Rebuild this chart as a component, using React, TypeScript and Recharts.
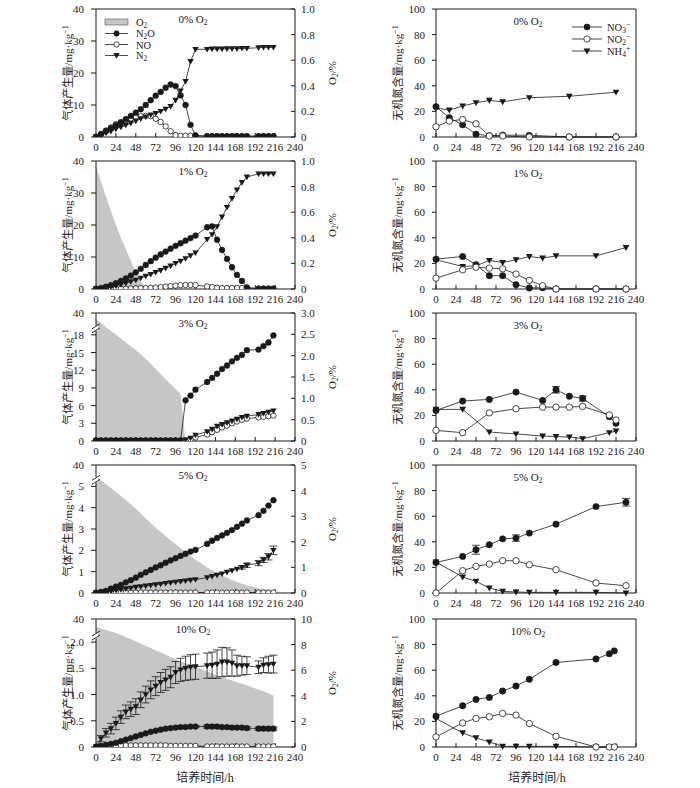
import { ComposedChart, Line, Area, XAxis, YAxis, ReferenceLine, ErrorBar } from 'recharts';

const FONT = "'Liberation Serif', 'Times New Roman', 'Noto Sans CJK SC', serif";
const INK = '#1a1a1a';
const GREY = '#c6c6c6';

// incubation time (h) for the gas panels
const hours = [
  0, 6, 12, 18, 24, 30, 36, 42, 48, 54, 60, 66, 72, 78, 84, 90, 96, 102, 108, 114, 120,
  134, 140, 146, 152, 158, 164, 170, 176, 182, 196, 202, 208, 214,
];
const xTicks = [0, 24, 48, 72, 96, 120, 144, 168, 192, 216, 240];

// 0% O2
const n2o0 = [0, 0.9, 1.9, 2.8, 3.7, 4.6, 5.6, 6.6, 7.6, 8.7, 10.0, 11.5, 12.9, 14.1, 15.4, 16.4, 15.9, 13.0, 10.0, 3.8, 0.5,
  0.2, 0.2, 0.2, 0.2, 0.2, 0.2, 0.2, 0.2, 0.2, 0.2, 0.2, 0.2, 0.2];
const no0 = [0, 0.9, 2.0, 3.0, 4.0, 4.6, 5.2, 5.8, 6.2, 6.5, 6.6, 6.5, 5.7, 4.7, 3.3, 1.8, 0.6, 0.4, 0.4, 0.4, 0.4,
  0.3, 0.3, 0.3, 0.3, 0.3, 0.3, 0.3, 0.3, 0.3, 0.3, 0.3, 0.3, 0.3];
const n20 = [0, 0.6, 1.2, 1.8, 2.5, 3.1, 3.7, 4.3, 5.0, 5.7, 6.3, 6.9, 7.4, 8.0, 8.7, 9.6, 11.5, 14.4, 17.4, 23.6, 27.4,
  27.4, 27.5, 27.5, 27.5, 27.6, 27.6, 27.6, 27.7, 27.7, 27.9, 28.0, 28.0, 28.0];

// 1% O2
const o21 = [0.96, 0.84, 0.72, 0.61, 0.50, 0.40, 0.31, 0.22, 0.13, 0.06, 0.01];
const n2o1 = [0, 0.3, 0.7, 1.2, 1.8, 2.5, 3.3, 4.2, 5.2, 6.3, 7.5, 8.7, 9.8, 10.8, 11.7, 12.6, 13.5, 14.3, 15.1, 15.9, 16.7,
  19.3, 19.6, 15.4, 12.2, 9.4, 6.8, 4.4, 2.5, 0.5, 0, 0, 0, 0];
const no1 = [0, 0, 0, 0, 0.05, 0.1, 0.1, 0.15, 0.2, 0.25, 0.3, 0.35, 0.45, 0.6, 0.75, 0.9, 1.05, 1.2, 1.25, 1.25, 1.2,
  0.8, 0.6, 0.4, 0.3, 0.3, 0.3, 0.3, 0.3, 0.3, 0.2, 0.2, 0.2, 0.2];
const n21 = [0, 0.2, 0.4, 0.7, 1.0, 1.4, 1.8, 2.3, 2.8, 3.4, 4.0, 4.6, 5.2, 5.8, 6.5, 7.2, 8.0, 8.7, 9.5, 10.4, 11.3,
  15.5, 17.0, 19.5, 22.5, 25.5, 28.3, 31.0, 33.3, 35.0, 36.0, 36.0, 36.0, 36.0];

// 3% O2
const o23 = [2.85, 2.76, 2.67, 2.58, 2.49, 2.40, 2.31, 2.22, 2.13, 2.03, 1.93, 1.81, 1.69, 1.57, 1.45, 1.33, 1.22, 1.10, 0];
const n2o3 = [0.1, 0.1, 0.1, 0.1, 0.1, 0.1, 0.1, 0.1, 0.1, 0.1, 0.1, 0.1, 0.1, 0.1, 0.1, 0.1, 0.1, 0.1, 6.9, 7.7, 8.7,
  10.0, 10.7, 11.4, 12.2, 12.8, 13.5, 14.1, 14.6, 15.4, 15.5, 16.1, 16.7, 17.9];
const no3g = [0.05, 0.05, 0.05, 0.05, 0.05, 0.05, 0.05, 0.05, 0.05, 0.05, 0.05, 0.05, 0.05, 0.05, 0.05, 0.05, 0.05, 0.05, 0.1, 0.3, 0.6,
  1.1, 1.5, 1.9, 2.3, 2.6, 3.0, 3.3, 3.6, 3.8, 4.0, 4.1, 4.2, 4.3];
const n23 = [0.05, 0.05, 0.05, 0.05, 0.05, 0.05, 0.05, 0.05, 0.05, 0.05, 0.05, 0.05, 0.05, 0.05, 0.05, 0.05, 0.05, 0.05, 0.2, 0.5, 1.0,
  1.6, 2.0, 2.5, 2.8, 3.1, 3.4, 3.7, 4.0, 4.2, 4.5, 4.7, 4.9, 5.1];

// 5% O2
const o25 = [4.55, 4.40, 4.25, 4.10, 3.95, 3.79, 3.63, 3.47, 3.30, 3.11, 2.92, 2.73, 2.55, 2.38, 2.22, 2.06, 1.90, 1.75, 1.60, 1.45, 1.30,
  1.00, 0.89, 0.79, 0.69, 0.60, 0.51, 0.43, 0.36, 0.30, 0.19, 0.16, 0.14, 0.12];
const n2o5 = [0, 0.05, 0.1, 0.2, 0.3, 0.38, 0.5, 0.6, 0.72, 0.85, 0.97, 1.08, 1.2, 1.3, 1.42, 1.53, 1.63, 1.74, 1.84, 1.94, 2.02,
  2.3, 2.45, 2.58, 2.7, 2.82, 2.95, 3.1, 3.25, 3.4, 3.65, 3.85, 4.1, 4.35];
const no5 = [0.02, 0.02, 0.02, 0.02, 0.02, 0.02, 0.02, 0.02, 0.02, 0.02, 0.02, 0.02, 0.02, 0.02, 0.02, 0.02, 0.02, 0.02, 0.02, 0.02, 0.02,
  0.02, 0.02, 0.02, 0.02, 0.02, 0.02, 0.02, 0.02, 0.02, 0.02, 0.02, 0.02, 0.02];
const n25 = [0, 0.02, 0.05, 0.08, 0.12, 0.16, 0.2, 0.23, 0.27, 0.3, 0.33, 0.36, 0.39, 0.42, 0.45, 0.48, 0.51, 0.54, 0.57, 0.6, 0.63,
  0.72, 0.78, 0.84, 0.9, 0.98, 1.05, 1.12, 1.2, 1.3, 1.4, 1.55, 1.7, 2.0];
const n25Err = [0, 0, 0, 0, 0, 0, 0, 0, 0, 0, 0, 0, 0, 0, 0, 0, 0, 0, 0, 0, 0,
  0, 0, 0, 0, 0, 0, 0, 0.08, 0.1, 0.12, 0.12, 0.15, 0.2];

// 10% O2
const o210 = [9.35, 9.25, 9.14, 9.02, 8.90, 8.75, 8.59, 8.42, 8.25, 8.08, 7.90, 7.73, 7.55, 7.38, 7.20, 7.03, 6.85, 6.70, 6.55, 6.40, 6.25,
  5.90, 5.75, 5.60, 5.46, 5.32, 5.19, 5.06, 4.94, 4.82, 4.48, 4.35, 4.20, 4.02];
const n2o10 = [0, 0.02, 0.04, 0.06, 0.08, 0.11, 0.14, 0.17, 0.2, 0.23, 0.26, 0.29, 0.31, 0.33, 0.35, 0.36, 0.37, 0.38, 0.38, 0.39, 0.39,
  0.39, 0.39, 0.39, 0.38, 0.38, 0.37, 0.37, 0.37, 0.36, 0.35, 0.35, 0.35, 0.35];
const n2o10Err = [0, 0, 0, 0, 0, 0, 0, 0, 0, 0, 0, 0, 0, 0, 0, 0, 0.02, 0.02, 0.02, 0.02, 0.02,
  0.03, 0.03, 0.03, 0.03, 0.03, 0.03, 0.03, 0.03, 0.03, 0.03, 0.03, 0.03, 0.03];
const no10 = [0, 0.01, 0.02, 0.02, 0.02, 0.03, 0.03, 0.03, 0.03, 0.03, 0.03, 0.03, 0.03, 0.03, 0.03, 0.02, 0.02, 0.02, 0.02, 0.02, 0.02,
  0.01, 0.01, 0.01, 0.01, 0.01, 0.01, 0.01, 0.01, 0.01, 0.01, 0.01, 0.01, 0.01];
const n210 = [0, 0.16, 0.27, 0.35, 0.45, 0.57, 0.67, 0.72, 0.77, 0.9, 1.0, 1.09, 1.16, 1.23, 1.28, 1.33, 1.42, 1.47, 1.5, 1.52, 1.53,
  1.55, 1.56, 1.58, 1.62, 1.62, 1.6, 1.55, 1.55, 1.55, 1.52, 1.56, 1.57, 1.58];
const n210Err = [0, 0.06, 0.08, 0.1, 0.12, 0.12, 0.13, 0.14, 0.15, 0.15, 0.16, 0.17, 0.18, 0.19, 0.2, 0.2, 0.21, 0.22, 0.23, 0.24, 0.24,
  0.24, 0.25, 0.27, 0.28, 0.27, 0.25, 0.2, 0.18, 0.17, 0.12, 0.14, 0.16, 0.17];

// inorganic N panels
const t0 = [0, 16, 32, 48, 64, 80, 112, 160, 216];
const nitrate0 = [23.7, 15, 9.5, 2.2, 1.0, 1.5, 1.3, 0, 0];
const nitrite0 = [8.0, 12.4, 13.7, 10.3, 0.8, 0.8, 0, 0, 0];
const ammonium0 = [22.7, 21, 24.2, 26.8, 28.6, 27.5, 30.7, 31.8, 35];

const t1 = [0, 32, 48, 64, 80, 96, 112, 128, 144, 192, 228];
const nitrate1 = [23.3, 25.4, 19, 10.4, 10.4, 3.4, 0.8, 1, 0, 0, 0];
const nitrite1 = [8.5, 15, 17, 16.3, 15.8, 11.7, 6.7, 2.6, 0, 0, 0];
const ammonium1 = [22.8, 17.6, 18.1, 22.3, 20.7, 22.8, 25.4, 24.1, 25.9, 25.9, 32.4];

const t3 = [0, 32, 64, 96, 128, 144, 160, 176, 208, 216];
const nitrate3 = [23.9, 31.2, 32.5, 38.2, 31.7, 40, 35, 33.2, 19, 13.8];
const nitrate3Err = [0, 0, 0, 0, 0, 2.5, 0, 2, 0, 0];
const nitrite3 = [8.3, 6.5, 22, 25.2, 26.5, 26.5, 26.5, 27, 20.3, 16.4];
const ammonium3 = [24.7, 24.7, 7, 5.5, 3.9, 3.4, 3.1, 1.8, 6.5, 7.8];

const t5 = [0, 32, 48, 64, 80, 96, 112, 144, 192, 228];
const nitrate5 = [23.9, 28.6, 33.8, 37.7, 42.3, 42.9, 46.8, 53.8, 67.5, 70.9];
const nitrate5Err = [0, 0, 3.5, 0, 0, 2.5, 0, 0, 0, 3];
const nitrite5 = [0, 17.4, 20.8, 22.6, 25.2, 25.2, 22.1, 18.2, 7.8, 5.7];
const ammonium5 = [24.2, 12.5, 9.1, 3.9, 1.3, 0.8, 0.5, 0.5, 0.5, 0];

const t10 = [0, 32, 48, 64, 80, 96, 112, 144, 192, 208, 214];
const nitrate10 = [24.1, 32.2, 37.2, 38.7, 43.7, 47.6, 52.9, 66, 68.8, 72.8, 75.1];
const nitrite10 = [7.9, 18.8, 22.3, 23.6, 26.2, 24.9, 18.3, 8.4, 0, 0, 0];
const ammonium10 = [22.3, 11, 7.1, 3.9, 0.5, 0.5, 0.5, 0.5, 0, 0, 0];

const titles = ['0%', '1%', '3%', '5%', '10%'];

const gasPanels = [
  { o2: null, n2o: n2o0, no: no0, n2: n20, n2Err: null, n2oErr: null,
    leftMax: 40, leftTicks: [0, 10, 20, 30, 40], leftDigits: 0, breakAt: null,
    rightMax: 1, rightTicks: [0, 0.2, 0.4, 0.6, 0.8, 1], rightDigits: 1 },
  { o2: o21, n2o: n2o1, no: no1, n2: n21, n2Err: null, n2oErr: null,
    leftMax: 40, leftTicks: [0, 10, 20, 30, 40], leftDigits: 0, breakAt: null,
    rightMax: 1, rightTicks: [0, 0.2, 0.4, 0.6, 0.8, 1], rightDigits: 1 },
  { o2: o23, n2o: n2o3, no: no3g, n2: n23, n2Err: null, n2oErr: null,
    leftMax: 21.7, leftTicks: [0, 3, 6, 9, 12, 15, 18, 21.7], leftDigits: 0, breakAt: 18,
    rightMax: 3, rightTicks: [0, 0.5, 1, 1.5, 2, 2.5, 3], rightDigits: 1 },
  { o2: o25, n2o: n2o5, no: no5, n2: n25, n2Err: n25Err, n2oErr: null,
    leftMax: 6.0, leftTicks: [0, 1, 2, 3, 4, 5, 6.0], leftDigits: 0, breakAt: 5,
    rightMax: 5, rightTicks: [0, 1, 2, 3, 4, 5], rightDigits: 0 },
  { o2: o210, n2o: n2o10, no: no10, n2: n210, n2Err: n210Err, n2oErr: n2o10Err,
    leftMax: 2.44, leftTicks: [0, 0.5, 1, 1.5, 2, 2.44], leftDigits: 1, breakAt: 2,
    rightMax: 10, rightTicks: [0, 2, 4, 6, 8, 10], rightDigits: 0 },
];

const nPanels = [
  { t: t0, no3: nitrate0, no3Err: null, no2: nitrite0, nh4: ammonium0 },
  { t: t1, no3: nitrate1, no3Err: null, no2: nitrite1, nh4: ammonium1 },
  { t: t3, no3: nitrate3, no3Err: nitrate3Err, no2: nitrite3, nh4: ammonium3 },
  { t: t5, no3: nitrate5, no3Err: nitrate5Err, no2: nitrite5, nh4: ammonium5 },
  { t: t10, no3: nitrate10, no3Err: null, no2: nitrite10, nh4: ammonium10 },
];

const plotTops = [9, 161, 313, 465, 619];
const PLOT_H = 128;

const fmt = (v: number, d: number) => (v === 0 ? '0' : v.toFixed(d));
const tickStyle = { fontSize: 11, fontFamily: FONT, fill: INK };

const filledDot = (r: number) => (p: any) =>
  p.cy == null ? <g key={`f${p.index}`} /> : (
    <circle key={`f${p.index}`} cx={p.cx} cy={p.cy} r={r} fill={INK} stroke={INK} strokeWidth={0.5} />
  );
const openDot = (r: number) => (p: any) =>
  p.cy == null ? <g key={`o${p.index}`} /> : (
    <circle key={`o${p.index}`} cx={p.cx} cy={p.cy} r={r} fill="#fff" stroke={INK} strokeWidth={0.8} />
  );
const triDot = (s: number) => (p: any) =>
  p.cy == null ? <g key={`t${p.index}`} /> : (
    <path key={`t${p.index}`} d={`M${p.cx - s},${p.cy - s * 0.75}L${p.cx + s},${p.cy - s * 0.75}L${p.cx},${p.cy + s}Z`} fill={INK} />
  );

function GasChart({ idx }: { idx: number }) {
  const p = gasPanels[idx];
  const data = hours.map((t, i) => ({
    t,
    o2: p.o2 ? p.o2[i] : undefined,
    n2o: p.n2o[i],
    no: p.no[i],
    n2: p.n2[i],
    n2Err: p.n2Err ? p.n2Err[i] : 0,
    n2oErr: p.n2oErr ? p.n2oErr[i] : 0,
  }));

  const leftTick = (props: any) => {
    const { x, y, payload } = props;
    const v = payload.value;
    const label = p.breakAt != null && v === p.leftMax ? '40' : fmt(v, p.leftDigits);
    const ax = x + 12;
    return (
      <g>
        <text x={x} y={y} dy={4} textAnchor="end" {...tickStyle}>{label}</text>
        {p.breakAt === v && (
          <g>
            <rect x={ax - 2} y={y - 9} width={4} height={5} fill="#fff" />
            <line x1={ax - 4} y1={y - 2} x2={ax + 4} y2={y - 7} stroke={INK} strokeWidth={0.9} />
            <line x1={ax - 4} y1={y - 6} x2={ax + 4} y2={y - 11} stroke={INK} strokeWidth={0.9} />
          </g>
        )}
      </g>
    );
  };

  return (
    <div style={{ position: 'absolute', left: 0, top: plotTops[idx] - 10 }}>
      <ComposedChart width={360} height={160} data={data} margin={{ top: 10, right: 0, bottom: 2, left: 0 }}>
        <XAxis dataKey="t" type="number" domain={[0, 240]} ticks={xTicks} interval={0}
          tickSize={-4} tickMargin={10} tick={tickStyle} axisLine={{ stroke: INK }} tickLine={{ stroke: INK }} height={20} />
        <YAxis yAxisId="left" domain={[0, p.leftMax]} ticks={p.leftTicks} interval={0} width={96}
          tickSize={5} tickMargin={7} tick={leftTick} axisLine={{ stroke: INK }} tickLine={{ stroke: INK }} allowDataOverflow />
        <YAxis yAxisId="right" orientation="right" domain={[0, p.rightMax]} ticks={p.rightTicks} interval={0} width={65}
          tickSize={-4} tickMargin={10} tick={tickStyle} tickFormatter={(v: number) => fmt(v, p.rightDigits)}
          axisLine={{ stroke: INK }} tickLine={{ stroke: INK }} allowDataOverflow />
        {p.o2 && (
          <Area yAxisId="right" dataKey="o2" type="linear" fill={GREY} fillOpacity={1} stroke="none"
            isAnimationActive={false} dot={false} activeDot={false} />
        )}
        <ReferenceLine yAxisId="left" y={p.leftMax} stroke={INK} />
        <Line yAxisId="left" dataKey="no" type="linear" stroke={INK} strokeWidth={0.8}
          dot={openDot(2.7)} activeDot={false} isAnimationActive={false} />
        <Line yAxisId="left" dataKey="n2" type="linear" stroke={INK} strokeWidth={0.8}
          dot={triDot(3.2)} activeDot={false} isAnimationActive={false}>
          {p.n2Err && <ErrorBar dataKey="n2Err" width={4} stroke={INK} strokeWidth={0.8} direction="y" />}
        </Line>
        <Line yAxisId="left" dataKey="n2o" type="linear" stroke={INK} strokeWidth={0.8}
          dot={filledDot(2.9)} activeDot={false} isAnimationActive={false}>
          {p.n2oErr && <ErrorBar dataKey="n2oErr" width={4} stroke={INK} strokeWidth={0.8} direction="y" />}
        </Line>
      </ComposedChart>
    </div>
  );
}

function NitrogenChart({ idx }: { idx: number }) {
  const p = nPanels[idx];
  const data = p.t.map((t, i) => ({
    t,
    no3: p.no3[i],
    no3Err: p.no3Err ? p.no3Err[i] : 0,
    no2: p.no2[i],
    nh4: p.nh4[i],
  }));
  return (
    <div style={{ position: 'absolute', left: 350, top: plotTops[idx] - 10 }}>
      <ComposedChart width={300} height={160} data={data} margin={{ top: 10, right: 14, bottom: 2, left: 0 }}>
        <XAxis dataKey="t" type="number" domain={[0, 240]} ticks={xTicks} interval={0}
          tickSize={-4} tickMargin={10} tick={tickStyle} axisLine={{ stroke: INK }} tickLine={{ stroke: INK }} height={20} />
        <YAxis domain={[0, 100]} ticks={[0, 20, 40, 60, 80, 100]} interval={0} width={86}
          tickSize={4} tickMargin={7} tick={tickStyle} axisLine={{ stroke: INK }} tickLine={{ stroke: INK }} />
        <ReferenceLine y={100} stroke={INK} />
        <ReferenceLine x={240} stroke={INK} />
        <Line dataKey="nh4" type="linear" stroke={INK} strokeWidth={0.8}
          dot={triDot(3.4)} activeDot={false} isAnimationActive={false} />
        <Line dataKey="no3" type="linear" stroke={INK} strokeWidth={0.8}
          dot={filledDot(3.2)} activeDot={false} isAnimationActive={false}>
          {p.no3Err && <ErrorBar dataKey="no3Err" width={4} stroke={INK} strokeWidth={0.8} direction="y" />}
        </Line>
        <Line dataKey="no2" type="linear" stroke={INK} strokeWidth={0.8}
          dot={openDot(3.2)} activeDot={false} isAnimationActive={false} />
      </ComposedChart>
    </div>
  );
}

const Sub = ({ v }: { v: string }) => <tspan fontSize={7.5} dy={2}>{v}</tspan>;

function Overlay() {
  return (
    <svg width={700} height={788} style={{ position: 'absolute', left: 0, top: 0, pointerEvents: 'none' }}
      fontFamily={FONT} fill={INK}>
      {plotTops.map((top, i) => (
        <g key={i} fontSize={11}>
          <text x={193} y={top + 14} textAnchor="middle">{titles[i]} O<Sub v="2" /></text>
          <text x={528} y={top + 16} textAnchor="middle">{titles[i]} O<Sub v="2" /></text>
          <text transform={`translate(72, ${top + PLOT_H / 2}) rotate(-90)`} textAnchor="middle">
            气体产生量/mg·kg<tspan fontSize={8} dy={-4}>−1</tspan>
          </text>
          <text transform={`translate(336, ${top + PLOT_H / 2}) rotate(-90)`} textAnchor="middle">
            O<Sub v="2" /><tspan dy={-2}>/%</tspan>
          </text>
          <text transform={`translate(402, ${top + PLOT_H / 2}) rotate(-90)`} textAnchor="middle">
            无机氮含量/mg·kg<tspan fontSize={8} dy={-4}>−1</tspan>
          </text>
        </g>
      ))}

      {/* legend, gas panel */}
      <g fontSize={10.5}>
        <rect x={105} y={19} width={23} height={6} fill={GREY} stroke="#555" strokeWidth={0.6} />
        <text x={136} y={25.5}>O<Sub v="2" /></text>
        <line x1={105} x2={128} y1={33.5} y2={33.5} stroke={INK} strokeWidth={0.8} />
        <circle cx={116.5} cy={33.5} r={2.9} fill={INK} />
        <text x={136} y={36.5}>N<Sub v="2" /><tspan dy={-2}>O</tspan></text>
        <line x1={105} x2={128} y1={44.5} y2={44.5} stroke={INK} strokeWidth={0.8} />
        <circle cx={116.5} cy={44.5} r={2.7} fill="#fff" stroke={INK} strokeWidth={0.8} />
        <text x={136} y={48.5}>NO</text>
        <line x1={105} x2={128} y1={55.5} y2={55.5} stroke={INK} strokeWidth={0.8} />
        <path d="M113.3,53.1L119.7,53.1L116.5,58.7Z" fill={INK} />
        <text x={136} y={59}>N<Sub v="2" /></text>
      </g>

      {/* legend, nitrogen panel */}
      <g fontSize={10.5}>
        <line x1={572} x2={602} y1={27} y2={27} stroke={INK} strokeWidth={0.8} />
        <circle cx={587} cy={27} r={3.2} fill={INK} />
        <text x={607} y={30.5}>NO<Sub v="3" /><tspan fontSize={7.5} dy={-6}>−</tspan></text>
        <line x1={572} x2={602} y1={39} y2={39} stroke={INK} strokeWidth={0.8} />
        <circle cx={587} cy={39} r={3.2} fill="#fff" stroke={INK} strokeWidth={0.8} />
        <text x={607} y={42.5}>NO<Sub v="2" /><tspan fontSize={7.5} dy={-6}>−</tspan></text>
        <line x1={572} x2={602} y1={51} y2={51} stroke={INK} strokeWidth={0.8} />
        <path d="M583.6,48.5L590.4,48.5L587,54.4Z" fill={INK} />
        <text x={607} y={54.5}>NH<Sub v="4" /><tspan fontSize={7.5} dy={-6}>+</tspan></text>
      </g>

      <text x={205} y={782} textAnchor="middle" fontSize={12}>培养时间/h</text>
      <text x={537} y={782} textAnchor="middle" fontSize={12}>培养时间/h</text>
    </svg>
  );
}

export default function App() {
  return (
    <div style={{ position: 'absolute', left: 0, top: 0, width: 700, height: 788, background: '#fff' }}>
      {gasPanels.map((_, i) => <GasChart key={`g${i}`} idx={i} />)}
      {nPanels.map((_, i) => <NitrogenChart key={`n${i}`} idx={i} />)}
      <Overlay />
    </div>
  );
}
